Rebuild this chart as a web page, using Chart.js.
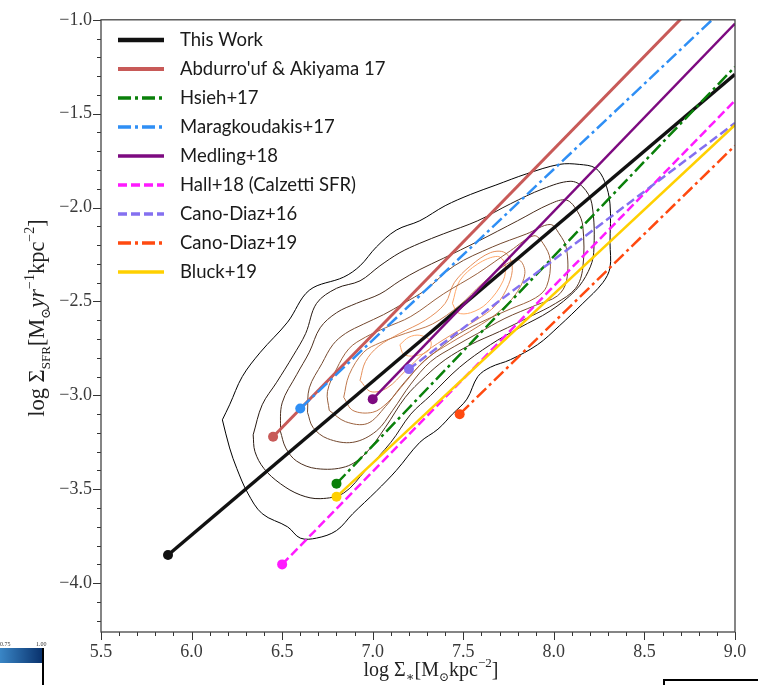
<!DOCTYPE html>
<html>
<head>
<meta charset="utf-8">
<script src="https://cdn.jsdelivr.net/npm/chart.js@4.4.0/dist/chart.umd.min.js"></script>
<style>
    body { margin: 0; background: #fff; }
    #wrap { position: relative; width: 758px; height: 685px; overflow: hidden; }
    #wrap canvas { position: absolute; left: 0; top: 0; }
    .bit { position: absolute; }
    .cbar { left: 0; top: 648px; width: 43px; height: 15px; background: linear-gradient(to right, #3a86c6, #08306b); }
    .cblab { top: 641px; font: 6px "Liberation Serif", serif; color: #333; }
    .cbline { left: 42px; top: 648px; width: 1.5px; height: 37px; background: #000; }
    .corner { left: 663px; top: 679px; width: 140px; height: 40px; border: 2px solid #000; }
</style>
</head>
<body>
<div id="wrap">
    <canvas id="chart" width="758" height="685"></canvas>
    <div class="bit cbar"></div>
    <div class="bit cblab" style="left:0px">0.75</div>
    <div class="bit cblab" style="left:36px">1.00</div>
    <div class="bit cbline"></div>
    <div class="bit corner"></div>
</div>
<script>
// fitted relations: start point (dot) and end point
const fitNames = ['This Work', "Abdurro'uf & Akiyama 17", 'Hsieh+17', 'Maragkoudakis+17', 'Medling+18',
    'Hall+18 (Calzetti SFR)', 'Cano-Diaz+16', 'Cano-Diaz+19', 'Bluck+19'];
const fitStartX = [5.87, 6.45, 6.80, 6.60, 7.00, 6.50, 7.20, 7.48, 6.80];
const fitStartY = [-3.85, -3.22, -3.47, -3.07, -3.02, -3.90, -2.86, -3.10, -3.54];
const fitEndX = [9.0, 9.0, 9.0, 9.0, 9.0, 9.0, 9.0, 9.0, 9.0];
const fitEndY = [-1.29, -0.70, -1.25, -0.885, -1.02, -1.43, -1.55, -1.67, -1.56];

// density contours (outer -> inner), log Sigma_* vs log Sigma_SFR
const contour1 = [[6.17,-3.13],[6.21,-3.05],[6.28,-2.90],[6.38,-2.77],[6.53,-2.61],[6.65,-2.44],[6.84,-2.37],[6.93,-2.31],
    [7.02,-2.21],[7.13,-2.12],[7.26,-2.07],[7.40,-1.99],[7.54,-1.93],[7.68,-1.88],[7.85,-1.82],[8.03,-1.77],[8.14,-1.77],
    [8.23,-1.79],[8.28,-1.86],[8.31,-1.98],[8.31,-2.19],[8.31,-2.32],[8.27,-2.40],[8.16,-2.51],[8.03,-2.63],[7.91,-2.73],
    [7.76,-2.81],[7.65,-2.85],[7.58,-2.90],[7.52,-3.02],[7.44,-3.10],[7.36,-3.18],[7.26,-3.25],[7.13,-3.40],[7.02,-3.51],
    [6.89,-3.63],[6.80,-3.72],[6.69,-3.76],[6.60,-3.76],[6.53,-3.70],[6.39,-3.63],[6.31,-3.52],[6.25,-3.39],[6.21,-3.28],[6.17,-3.13]];
const contour2 = [[6.34,-3.21],[6.39,-3.05],[6.47,-2.93],[6.56,-2.79],[6.63,-2.67],[6.69,-2.51],[6.80,-2.43],[6.93,-2.39],
    [7.04,-2.31],[7.15,-2.24],[7.26,-2.19],[7.39,-2.14],[7.58,-2.07],[7.76,-1.98],[7.94,-1.90],[8.09,-1.86],[8.16,-1.89],
    [8.21,-1.98],[8.22,-2.24],[8.19,-2.34],[8.12,-2.44],[7.98,-2.55],[7.81,-2.64],[7.65,-2.73],[7.48,-2.85],[7.32,-3.00],
    [7.21,-3.10],[7.10,-3.25],[6.96,-3.40],[6.84,-3.52],[6.71,-3.55],[6.60,-3.53],[6.49,-3.47],[6.40,-3.39],[6.35,-3.30],[6.34,-3.21]];
const contour3 = [[6.49,-3.19],[6.50,-3.04],[6.58,-2.89],[6.65,-2.77],[6.71,-2.64],[6.80,-2.56],[6.91,-2.51],[7.04,-2.46],
    [7.15,-2.39],[7.26,-2.33],[7.39,-2.27],[7.58,-2.18],[7.80,-2.07],[7.98,-1.98],[8.07,-1.96],[8.13,-2.02],[8.16,-2.10],
    [8.16,-2.32],[8.12,-2.43],[8.01,-2.51],[7.87,-2.58],[7.70,-2.66],[7.54,-2.73],[7.40,-2.81],[7.29,-2.90],[7.18,-3.01],
    [7.07,-3.17],[6.96,-3.31],[6.85,-3.38],[6.69,-3.39],[6.58,-3.35],[6.52,-3.28],[6.49,-3.19]];
const contour4 = [[6.64,-3.09],[6.65,-2.96],[6.72,-2.83],[6.78,-2.73],[6.85,-2.67],[6.95,-2.62],[7.06,-2.57],[7.17,-2.51],
    [7.29,-2.44],[7.45,-2.31],[7.66,-2.21],[7.85,-2.14],[7.98,-2.09],[8.03,-2.14],[8.07,-2.22],[8.07,-2.39],[8.02,-2.47],
    [7.90,-2.52],[7.73,-2.59],[7.58,-2.67],[7.45,-2.74],[7.32,-2.82],[7.21,-2.94],[7.11,-3.08],[7.02,-3.19],[6.89,-3.25],
    [6.75,-3.23],[6.67,-3.17],[6.64,-3.09]];
const contour5 = [[6.76,-3.08],[6.75,-2.98],[6.80,-2.86],[6.87,-2.75],[6.96,-2.69],[7.07,-2.64],[7.21,-2.58],[7.39,-2.46],
    [7.58,-2.35],[7.76,-2.23],[7.89,-2.15],[7.94,-2.19],[7.98,-2.28],[7.96,-2.42],[7.90,-2.48],[7.76,-2.54],[7.62,-2.60],
    [7.48,-2.67],[7.37,-2.75],[7.26,-2.84],[7.15,-2.96],[7.07,-3.06],[6.97,-3.15],[6.85,-3.14],[6.76,-3.08]];
const contour6 = [[6.84,-3.01],[6.87,-2.89],[6.95,-2.77],[7.04,-2.72],[7.18,-2.67],[7.33,-2.62],[7.48,-2.52],[7.61,-2.40],
    [7.74,-2.30],[7.81,-2.28],[7.84,-2.35],[7.79,-2.46],[7.69,-2.56],[7.57,-2.64],[7.43,-2.72],[7.29,-2.81],[7.18,-2.93],
    [7.08,-3.04],[7.00,-3.09],[6.89,-3.08],[6.84,-3.01]];
const contour7 = [[6.93,-2.92],[6.96,-2.82],[7.03,-2.74],[7.15,-2.67],[7.29,-2.60],[7.40,-2.51],[7.45,-2.40],[7.54,-2.31],
    [7.65,-2.24],[7.73,-2.24],[7.77,-2.31],[7.75,-2.41],[7.68,-2.52],[7.57,-2.60],[7.43,-2.68],[7.29,-2.77],[7.18,-2.87],
    [7.08,-2.96],[6.99,-2.98],[6.93,-2.92]];
const contour8a = [[7.44,-2.51],[7.48,-2.39],[7.58,-2.30],[7.69,-2.26],[7.73,-2.30],[7.72,-2.39],[7.63,-2.51],[7.54,-2.56],
    [7.47,-2.56],[7.44,-2.51]];
const contour8b = [[7.15,-2.73],[7.20,-2.69],[7.26,-2.68],[7.32,-2.71],[7.31,-2.76],[7.23,-2.79],[7.17,-2.78],[7.15,-2.73]];

// styles
const fitColors = ['#111111', '#c85a58', '#0a800a', '#2f8ff5', '#7d0a80', '#ff1aff', '#8470f0', '#ff4a10', '#ffd000'];
const fitDash = [[], [], [13, 4, 3, 4], [13, 4, 3, 4], [], [9, 4], [9, 4], [13, 4, 3, 4], []];
const fitWidth = [3.5, 3, 2.5, 2.5, 2.5, 2.5, 2.5, 2.5, 2.5];
const contourSets = [contour1, contour2, contour3, contour4, contour5, contour6, contour7, contour8a, contour8b];
const contourColors = ['#000000', '#261810', '#4c2f1e', '#73482e', '#99603d', '#bf784c', '#e6905b', '#ffa86b', '#ffa86b'];

const serif = '"Liberation Serif", "DejaVu Serif", serif';

const datasets = [];
fitNames.forEach((name, i) => {
    datasets.push({
        label: name,
        data: [{ x: fitStartX[i], y: fitStartY[i] }, { x: fitEndX[i], y: fitEndY[i] }],
        showLine: true,
        borderColor: fitColors[i],
        backgroundColor: fitColors[i],
        borderWidth: fitWidth[i],
        borderDash: fitDash[i],
        pointRadius: [5, 0],
        pointBorderWidth: 0,
        pointBackgroundColor: fitColors[i],
        order: 9 - i,
        clip: 0
    });
});
contourSets.forEach((c, i) => {
    datasets.push({
        label: 'contour',
        data: c.map(p => ({ x: p[0], y: p[1] })),
        showLine: true,
        borderColor: contourColors[i],
        borderWidth: 1,
        pointRadius: 0,
        tension: 0.35,
        order: 20
    });
});

// draw a string made of pieces (sub/superscripts)
function richText(ctx, parts, x, y) {
    let w = 0;
    parts.forEach(p => { ctx.font = (p[3] || '') + ' ' + p[1] + 'px ' + serif; w += ctx.measureText(p[0]).width; });
    let cx = x - w / 2;
    parts.forEach(p => {
        ctx.font = (p[3] || '') + ' ' + p[1] + 'px ' + serif;
        ctx.fillText(p[0], cx, y + (p[2] || 0));
        cx += ctx.measureText(p[0]).width;
    });
}

const decor = {
    id: 'decor',
    afterDraw(chart) {
        const { ctx, chartArea: a, scales: { x, y } } = chart;
        ctx.save();
        // ticks
        ctx.strokeStyle = '#333';
        ctx.lineWidth = 1;
        ctx.setLineDash([]);
        ctx.beginPath();
        for (let i = 55; i <= 90; i++) {
            const px = Math.round(x.getPixelForValue(i / 10)) + 0.5;
            const len = i % 5 === 0 ? 8 : 4;
            ctx.moveTo(px, a.bottom); ctx.lineTo(px, a.bottom + len);
        }
        for (let i = -42; i <= -10; i++) {
            const py = Math.round(y.getPixelForValue(i / 10)) + 0.5;
            const len = i % 5 === 0 ? 8 : 4;
            ctx.moveTo(a.left, py); ctx.lineTo(a.left - len, py);
        }
        ctx.stroke();
        // frame
        ctx.strokeStyle = '#444';
        ctx.lineWidth = 1.3;
        ctx.strokeRect(a.left, a.top, a.right - a.left, a.bottom - a.top);

        // legend
        ctx.textBaseline = 'middle';
        fitNames.forEach((name, i) => {
            const ly = 40 + i * 29;
            ctx.strokeStyle = fitColors[i];
            ctx.lineWidth = fitWidth[i] + 1;
            ctx.setLineDash(fitDash[i]);
            ctx.beginPath();
            ctx.moveTo(118, ly); ctx.lineTo(164, ly);
            ctx.stroke();
            ctx.fillStyle = '#1a1a1a';
            ctx.font = '18.5px Lato, "Open Sans", sans-serif';
            ctx.fillText(name, 180, ly);
        });
        ctx.setLineDash([]);

        // axis titles
        ctx.fillStyle = '#222';
        ctx.textBaseline = 'alphabetic';
        richText(ctx, [['log \u03A3', 20], ['\u2217', 13, 5], ['[M', 20], ['\u2299', 12, 5], ['kpc', 20], ['\u22122', 13, -9], [']', 20]], 431, 676);
        ctx.translate(44, 318);
        ctx.rotate(-Math.PI / 2);
        richText(ctx, [['log \u03A3', 22.5], ['SFR', 13, 6], ['[M', 22.5], ['\u2299', 13, 6], ['yr', 22.5, 0, 'italic'], ['\u22121', 14, -10],
            ['kpc', 22.5], ['\u22122', 14, -10], [']', 22.5]], 0, 0);
        ctx.restore();
    }
};

const fmt = v => {
    if (Math.abs(v * 2 - Math.round(v * 2)) > 1e-6) return '';
    return (v < 0 ? '\u2212' : '') + Math.abs(v).toFixed(1);
};

new Chart(document.getElementById('chart'), {
    type: 'scatter',
    data: { datasets: datasets },
    options: {
        responsive: false,
        animation: false,
        events: [],
        layout: { padding: { left: 0, top: 14, right: 23, bottom: 0 } },
        plugins: { legend: { display: false }, tooltip: { enabled: false } },
        scales: {
            x: {
                type: 'linear', min: 5.5, max: 9.0,
                grid: { display: false, drawTicks: false },
                border: { display: false },
                ticks: { stepSize: 0.5, includeBounds: false, autoSkip: false, maxRotation: 0, padding: 9,
                    callback: fmt, color: '#3a3a3a', font: { family: serif, size: 18 } },
                afterFit: s => { s.height = 53; }
            },
            y: {
                type: 'linear', min: -4.26, max: -1.0,
                grid: { display: false, drawTicks: false },
                border: { display: false },
                ticks: { stepSize: 0.5, includeBounds: false, autoSkip: false, padding: 9,
                    callback: fmt, color: '#3a3a3a', font: { family: serif, size: 18 } },
                afterFit: s => { s.width = 101; }
            }
        }
    },
    plugins: [decor]
});
</script>
</body>
</html>
